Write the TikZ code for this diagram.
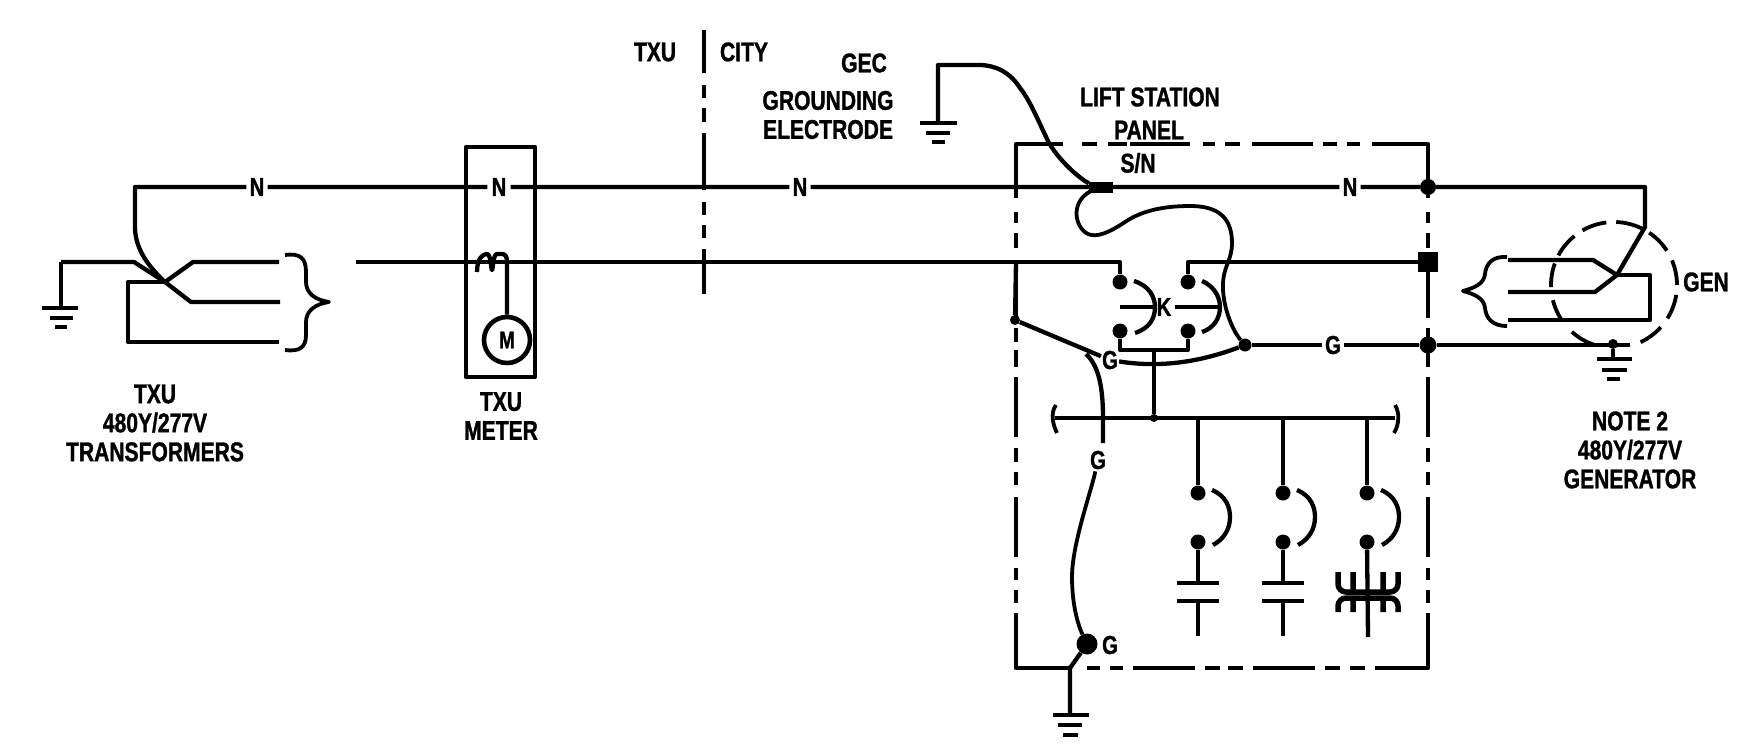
\documentclass[tikz,border=0pt]{standalone}
\usepackage{fontspec}
\setmainfont[FakeStretch=0.78,BoldFont={Liberation Sans Bold},BoldFeatures={FakeStretch=0.78,FakeBold=1.2}]{Liberation Sans}
\usetikzlibrary{calc}
\tikzset{
  x=1pt,y=-1pt,
  wire/.style={draw=black,line width=4.3pt,line join=round,line cap=butt},
  thin wire/.style={draw=black,line width=3.8pt,line join=round},
  lbl/.style={font=\bfseries\fontsize{27}{26}\selectfont,align=center,inner sep=0pt,text=black},
  onl/.style={font=\bfseries\fontsize{26}{26}\selectfont,inner sep=3pt},
  dot/.style={circle,fill=black,inner sep=0pt,minimum size=#1},
  dot/.default=13pt,
  sqdot/.style={rectangle,fill=black,inner sep=0pt,minimum size=#1},
  bar/.style={draw=black,line width=4.6pt},
}
\begin{document}
\begin{tikzpicture}
\useasboundingbox (0,0) rectangle (1761,755);
\fill[white] (0,0) rectangle (1761,755);

% ---- named points
\coordinate (tj) at (165,282);
\coordinate (tn) at (135,187);
\coordinate (lgnd) at (61,262);
\coordinate (lsig) at (356,262);

% ---- labels carried on the lines
\node[onl] (nA) at (257,187) {N};
\node[onl,inner sep=4pt] (nB) at (499,187) {N};
\node[onl] (nC) at (800,187) {N};
\node[onl] (nD) at (1350,187) {N};
\node[onl] (gA) at (1333,345) {G};
\node[onl,inner sep=1pt] (gB) at (1110,360) {G};
\node[onl,inner sep=2pt] (gC) at (1098,460) {G};
\node[onl,inner sep=1pt] (gD) at (1110,645) {G};
\node[onl,inner sep=3pt] (kL) at (1164,307) {K};

% ---- junctions
\node[dot=16pt] (jN) at (1428,187) {};
\node[sqdot=20pt] (jS) at (1428,262) {};
\node[dot=17pt] (jG) at (1428,345) {};
\node[dot=13pt] (jA) at (1245,345) {};
\node[dot=10pt] (jB) at (1015,320) {};
\node[dot=21pt] (jC) at (1087,644) {};
\node[dot=8pt] (jBus) at (1154,418) {};
\node[sqdot=11pt,minimum width=24pt] (sn) at (1101,187) {};
\node[dot=15pt] (k1) at (1120,282) {};
\node[dot=15pt] (k2) at (1120,331) {};
\node[dot=15pt] (k3) at (1188,282) {};
\node[dot=15pt] (k4) at (1188,331) {};

% ---- neutral
\draw[wire] (nA) -- (tn) -- ++(0,40) .. controls (135,250) and (150,268) .. (tj);
\draw[wire] (nA) -- (nB) -- (nC) -- (sn) -- (nD) -- (jN) -- (1645,187) -- (1645,227) -- (1617,275);

% ---- left transformer
\draw[wire] (lgnd) -- (134,262) -- (tj);
\draw[wire] (lgnd) -- (61,308);
\draw[bar] (42,308) -- (78,308) (50,318) -- (73,318) (55,327) -- (67,327);
\draw[wire] (tj) -- (193,262) -- (279,262);
\draw[wire] (tj) -- (191,302) -- (280,302);
\draw[wire] (tj) -- (128,282) -- (128,342) -- (279,342);
\draw[thin wire] (285,255) .. controls (300,253) and (306,258) .. (306,272)
  -- (306,282) .. controls (306,293) and (315,300) .. (329,302)
  .. controls (315,304) and (306,311) .. (306,322)
  -- (306,335) .. controls (306,347) and (300,352) .. (285,350);

% ---- supply line
\draw[wire] (lsig) -- (1120,262) -- (k1);
\draw[wire] (k3) -- (1188,262) -- (jS);

% ---- meter
\draw[wire] (466,147) rectangle (535,377);
\node[draw=black,line width=4.6pt,circle,minimum size=46pt,inner sep=0pt,font=\bfseries\fontsize{24}{24}\selectfont] (mtr) at (507,340) {M};
\draw[wire] (477,272) .. controls (477,258) and (483,254) .. (487,254)
  .. controls (491,254) and (491,270) .. (492,270)
  .. controls (493,270) and (493,254) .. (497,254) -- (502,254)
  .. controls (505,254) and (507,256) .. (507,262) -- (mtr);

% ---- TXU / CITY divider
\draw[wire] (704,30) -- (704,73) (704,85) -- (704,98) (704,108) -- (704,122)
  (704,133) -- (704,190) (704,202) -- (704,215) (704,225) -- (704,238) (704,249) -- (704,294);

% ---- GEC
\draw[wire] (sn) .. controls (1085,182) and (1062,165) .. (1049,143)
  .. controls (1040,125) and (1030,100) .. (1020,88)
  .. controls (1010,72) and (995,65) .. (979,65) -- (938,65) -- (938,123);
\draw[bar] (920,123) -- (957,123) (926,133) -- (950,133) (932,142) -- (945,142);

% ---- panel enclosure
\draw[wire] (1016,198) -- (1016,144) -- (1063,144) (1082,144) -- (1097,144) (1108,144) -- (1127,144)
  (1130,144) -- (1190,144) (1203,144) -- (1215,144) (1225,144) -- (1240,144) (1252,144) -- (1313,144)
  (1323,144) -- (1337,144) (1347,144) -- (1360,144) (1372,144) -- (1428,144) -- (1428,198);
\foreach \xx in {1016,1428}{
  \draw[wire] (\xx,212) -- (\xx,223) (\xx,233) -- (\xx,248) (\xx,262) -- (\xx,318)
    (\xx,328) -- (\xx,342) (\xx,350) -- (\xx,367) (\xx,377) -- (\xx,437)
    (\xx,448) -- (\xx,462) (\xx,472) -- (\xx,485) (\xx,497) -- (\xx,557)
    (\xx,568) -- (\xx,580) (\xx,590) -- (\xx,603);
}
\draw[wire] (1016,613) -- (1016,668) -- (1070,668) (1087,668) -- (1100,668) (1110,668) -- (1123,668)
  (1133,668) -- (1195,668) (1205,668) -- (1220,668) (1228,668) -- (1243,668) (1253,668) -- (1315,668)
  (1325,668) -- (1340,668) (1350,668) -- (1365,668) (1375,668) -- (1428,668) -- (1428,613);

% ---- grounding conductors
\draw[wire] (jG) -- (gA) -- (jA);
\draw[wire] (jG) -- (1630,345);
\draw[wire] (jB) -- (gB);
\draw[wire] (gB) .. controls (1160,368) and (1200,362) .. (jA);
\draw[wire] (1086,354) .. controls (1098,365) and (1103,385) .. (1103,418) -- (1103,443);
\draw[thin wire] (gC) .. controls (1090,495) and (1072,545) .. (1072,577)
  .. controls (1072,605) and (1078,625) .. (jC);
\draw[wire] (jC) -- (1070,668) -- (1070,715);
\draw[bar] (1053,715) -- (1089,715) (1058,725) -- (1082,725) (1063,735) -- (1078,735);
\draw[wire] (jB) -- (1016,262);

% ---- neutral to ground bond loop
\draw[thin wire] (jA) .. controls (1232,330) and (1222,305) .. (1223,283)
  .. controls (1224,265) and (1232,260) .. (1232,243)
  .. controls (1232,215) and (1215,206) .. (1190,206)
  .. controls (1160,206) and (1140,212) .. (1125,222)
  .. controls (1110,232) and (1097,238) .. (1088,234)
  .. controls (1075,228) and (1068,200) .. (1095,189);

% ---- contactor K
\draw[wire] (k2) -- (1120,350) -- (1188,350) -- (k4);
\draw[wire] (1154,350) -- (jBus);
\draw[wire] (1134,281) .. controls (1150,286) and (1155,298) .. (1155,307) .. controls (1155,318) and (1150,328) .. (1135,333);
\draw[wire] (1202,281) .. controls (1214,286) and (1220,297) .. (1220,307) .. controls (1220,318) and (1214,328) .. (1202,332);
\draw[thin wire] (1120,307) -- (kL) -- (1218,307);

% ---- bus
\draw[wire] (1055,418) -- (1395,418);
\draw[thin wire] (1056,405) .. controls (1050,413) and (1053,425) .. (1057,433);
\draw[thin wire] (1395,405) .. controls (1400,413) and (1399,425) .. (1394,433);

% ---- breakers and loads
\foreach \xx/\nm in {1198/a,1283/b,1367/c}{
  \node[dot=15pt] (up\nm) at (\xx,493) {};
  \node[dot=15pt] (lo\nm) at (\xx,542) {};
  \draw[wire] (\xx,418) -- (up\nm);
  \draw[wire] ($(up\nm)+(14,-3)$) .. controls ($(up\nm)+(28,3)$) and ($(up\nm)+(32,14)$) .. ($(up\nm)+(32,24)$)
     .. controls ($(up\nm)+(32,36)$) and ($(up\nm)+(26,46)$) .. ($(up\nm)+(15,52)$);
}
\foreach \xx/\nm in {1198/a,1283/b}{
  \draw[wire] (lo\nm) -- (\xx,583);
  \draw[bar] (\xx-21,583) -- (\xx+21,583);
  \draw[bar] (\xx-21,601) -- (\xx+21,601);
  \draw[wire] (\xx,601) -- (\xx,636);
}
\draw[wire] (loc) -- (1368,637);
\draw[line width=5.5pt,line join=round] (1338,572) -- (1338,584) to[out=-90,in=180] (1346,592) -- (1390,592) to[out=0,in=-90] (1398,584) -- (1398,572)
  (1353,572) -- (1353,592) (1383,572) -- (1383,592);
\draw[line width=5.5pt,line join=round] (1338,612) -- (1338,606) to[out=90,in=180] (1346,598) -- (1390,598) to[out=0,in=90] (1398,606) -- (1398,612)
  (1353,612) -- (1353,598) (1383,612) -- (1383,598);

% ---- generator
\coordinate (gj) at (1617,275);
\coordinate (gcen) at (1614,285);
\draw[wire] (gj) -- (1593,260) -- (1508,260);
\draw[wire] (gj) -- (1595,292) -- (1508,292);
\draw[wire] (gj) -- (1650,275) -- (1650,320) -- (1508,320);
\draw[thin wire] (1507,257) .. controls (1492,256) and (1486,264) .. (1485,274)
  .. controls (1484,284) and (1474,288) .. (1463,291)
  .. controls (1474,294) and (1484,298) .. (1485,308)
  .. controls (1486,318) and (1492,326) .. (1507,326);
\foreach \aa/\bb in {0/23,-9/-32,-42/-65,33/56,63/88,97/120,129/152,160/182,194/213,228/252}{
  \draw[thin wire] ($(gcen)+(\aa:63 and -63)$) arc[start angle=-\aa,end angle=-\bb,radius=63];
}
\node[dot=10pt] (gg) at (1613,344) {};
\draw[wire] (gg) -- (1613,359);
\draw[bar] (1597,359) -- (1632,359) (1602,370) -- (1627,370) (1607,379) -- (1620,379);

% ---- text
\node[lbl] (t1) at (155,423) {TXU\\[3pt]480Y/277V\\[3pt]TRANSFORMERS};
\node[lbl] (t2) at (501,416) {TXU\\[3pt]METER};
\node[lbl] (t3) at (655,52) {TXU};
\node[lbl] (t4) at (744,52) {CITY};
\node[lbl] (t5) at (864,63) {GEC};
\node[lbl] (t6) at (828,115) {GROUNDING\\[3pt]ELECTRODE};
\node[lbl] (t7) at (1150,97) {LIFT STATION};
\node[lbl] (t8) at (1149,130) {PANEL};
\node[lbl] (t9) at (1138,163) {S/N};
\node[lbl,anchor=west] (t10) at (1683,282) {GEN};
\node[lbl] (t11) at (1630,450) {NOTE 2\\[3pt]480Y/277V\\[3pt]GENERATOR};
\end{tikzpicture}
\end{document}
